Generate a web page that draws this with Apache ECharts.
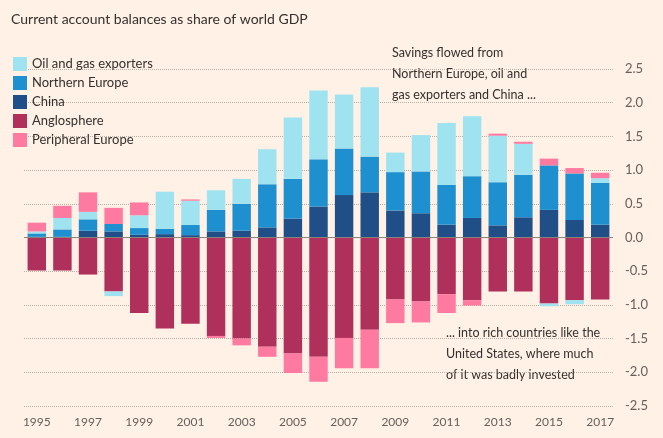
<!DOCTYPE html>
<html><head><meta charset="utf-8">
<script src="https://cdn.jsdelivr.net/npm/echarts@6/dist/echarts.min.js"></script>
<style>html,body{margin:0;padding:0;background:#fff1e5}#c{width:663px;height:438px}</style>
</head><body><div id="c"></div>
<script>
const years = ['1995','1996','1997','1998','1999','2000','2001','2002','2003','2004','2005','2006','2007','2008','2009','2010','2011','2012','2013','2014','2015','2016','2017'];
const china = [0.01,0.01,0.1,0.09,0.04,0.05,0.035,0.09,0.1,0.15,0.28,0.46,0.63,0.67,0.4,0.36,0.19,0.29,0.18,0.3,0.41,0.26,0.19];
const northernEurope = [0.05,0.11,0.17,0.11,0.1,0.08,0.15,0.32,0.4,0.64,0.59,0.7,0.69,0.53,0.57,0.62,0.59,0.62,0.64,0.63,0.66,0.69,0.62];
const oilGas = [0.03,0.17,0.11,-0.07,0.19,0.55,0.36,0.29,0.37,0.52,0.91,1.02,0.8,1.03,0.29,0.54,0.92,0.89,0.69,0.46,-0.04,-0.06,0.07];
const anglosphere = [-0.49,-0.49,-0.55,-0.8,-1.12,-1.35,-1.28,-1.46,-1.5,-1.62,-1.72,-1.77,-1.49,-1.37,-0.92,-0.95,-0.84,-0.93,-0.8,-0.8,-0.98,-0.93,-0.92];
const peripheral = [0.13,0.18,0.29,0.24,0.19,0,0.02,-0.03,-0.1,-0.15,-0.29,-0.37,-0.45,-0.57,-0.35,-0.31,-0.28,-0.08,0.03,0.03,0.1,0.08,0.08];
const yTicks = [-2.5,2.5,0.5];

const chart = echarts.init(document.getElementById('c'));
const mk = (name, data, color, extra) => Object.assign({name, type:'bar', stack:'t', data, barWidth:'72%', itemStyle:{color}}, extra||{});
chart.setOption({
  backgroundColor:'#fff1e5',
  animation:false,
  textStyle:{fontFamily:'Lato, sans-serif'},
  title:{text:'Current account balances as share of world GDP', left:6, top:7, textStyle:{fontSize:14, fontWeight:'normal', color:'#33302e'}},
  legend:{orient:'vertical', left:8, top:52, itemWidth:14, itemHeight:14, itemGap:5, icon:'rect',
    textStyle:{fontSize:13, color:'#33302e'},
    data:['Oil and gas exporters','Northern Europe','China','Anglosphere','Peripheral Europe']},
  grid:{left:24, right:50, top:69, bottom:32},
  xAxis:{type:'category', data:years, axisLine:{show:false},
    axisTick:{show:true, alignWithLabel:true, interval:0, length:6, lineStyle:{color:'#999'}},
    axisLabel:{interval:1, color:'#66605c', fontSize:12, margin:10}},
  yAxis:{type:'value', position:'right', min:yTicks[0], max:yTicks[1], interval:yTicks[2],
    axisLabel:{formatter:v=>v.toFixed(1), color:'#66605c', fontSize:13, margin:12},
    axisLine:{show:false}, axisTick:{show:false},
    splitLine:{lineStyle:{type:'dotted', color:'#b8aea6'}}},
  graphic:[
    {type:'text', left:392, top:42, style:{text:'Savings flowed from\nNorthern Europe, oil and\ngas exporters and China ...', fontSize:12.5, lineHeight:21, fill:'#33302e', fontFamily:'Lato, sans-serif'}},
    {type:'text', left:446, top:322, style:{text:'... into rich countries like the\nUnited States, where much\nof it was badly invested', fontSize:12.5, lineHeight:21, fill:'#33302e', fontFamily:'Lato, sans-serif'}}
  ],
  series:[
    mk('Anglosphere', anglosphere, '#b0305c', {markLine:{silent:true, symbol:'none', label:{show:false}, lineStyle:{color:'#8a8480', type:'solid', width:1}, data:[{yAxis:0}]}}),
    mk('China', china, '#1f4f86'),
    mk('Northern Europe', northernEurope, '#1e8fcf'),
    mk('Oil and gas exporters', oilGas, '#9fe3f0'),
    mk('Peripheral Europe', peripheral, '#ff7aa0')
  ]
});
</script></body></html>
